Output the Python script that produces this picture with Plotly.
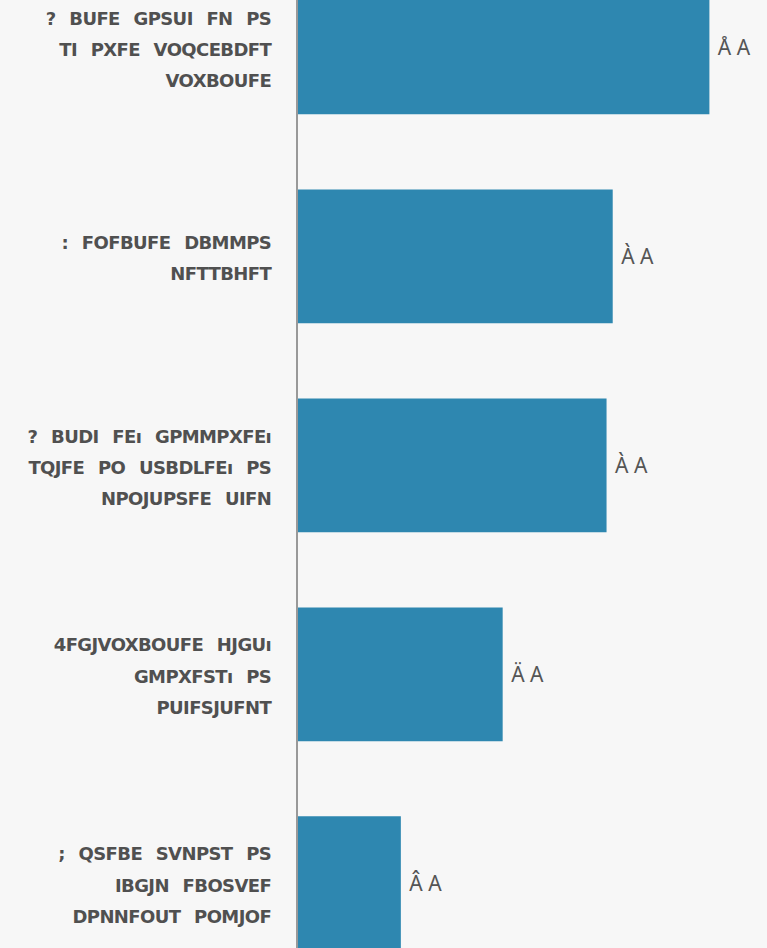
import plotly.graph_objects as go

# Category labels (as rendered in the reference, line by line)
label_lines = [
    ["? BUFE GPSUI FN PS", "TI PXFE VOQCEBDFT", "VOXBOUFE"],
    [": FOFBUFE DBMMPS", "NFTTBHFT"],
    ["? BUDI FEı GPMMPXFEı", "TQJFE PO USBDLFEı PS", "NPOJUPSFE UIFN"],
    ["4FGJVOXBOUFE HJGUı", "GMPXFSTı PS", "PUIFSJUFNT"],
    ["; QSFBE SVNPST PS", "IBGJN FBOSVEF", "DPNNFOUT POMJOF"],
]
categories = ["c1", "c2", "c3", "c4", "c5"]
values = [40.0, 30.6, 30.0, 19.9, 10.0]
value_labels = ["Å A", "À A", "À A", "Ä A", "Â A"]

ticktext = [
    "<br>".join(
        f"<span style='font-size:18px;word-spacing:8px;letter-spacing:-0.6px'>{ln}</span>"
        for ln in lines
    )
    for lines in label_lines
]

fig = go.Figure(
    go.Bar(
        x=values,
        y=categories,
        orientation="h",
        width=0.64,
        marker=dict(color="#2E87B0", line=dict(width=0)),
        text=["\u00a0" + t for t in value_labels],
        textposition="outside",
        cliponaxis=False,
        textfont=dict(family="Noto Sans", size=21, color="#555555"),
        hoverinfo="skip",
    )
)

fig.update_layout(
    width=767,
    height=948,
    margin=dict(l=298, r=0, t=0, b=0),
    paper_bgcolor="#F7F7F7",
    plot_bgcolor="#F7F7F7",
    showlegend=False,
    xaxis=dict(
        range=[0, 45.6],
        showgrid=False,
        zeroline=False,
        showticklabels=False,
        showline=False,
        fixedrange=True,
    ),
    yaxis=dict(
        type="category",
        categoryorder="array",
        categoryarray=categories,
        tickvals=categories,
        ticktext=ticktext,
        range=[4.31, -0.227],
        showgrid=False,
        zeroline=False,
        showline=True,
        linecolor="#999999",
        linewidth=2,
        ticks="",
        ticklabelstandoff=20,
        tickfont=dict(family="DejaVu Sans", size=24, color="#505050", weight="bold"),
        fixedrange=True,
    ),
)

fig.write_html(
    "out.html",
    config={"displayModeBar": False},
    post_script="document.body.style.margin='0';document.body.style.overflow='hidden';",
)
